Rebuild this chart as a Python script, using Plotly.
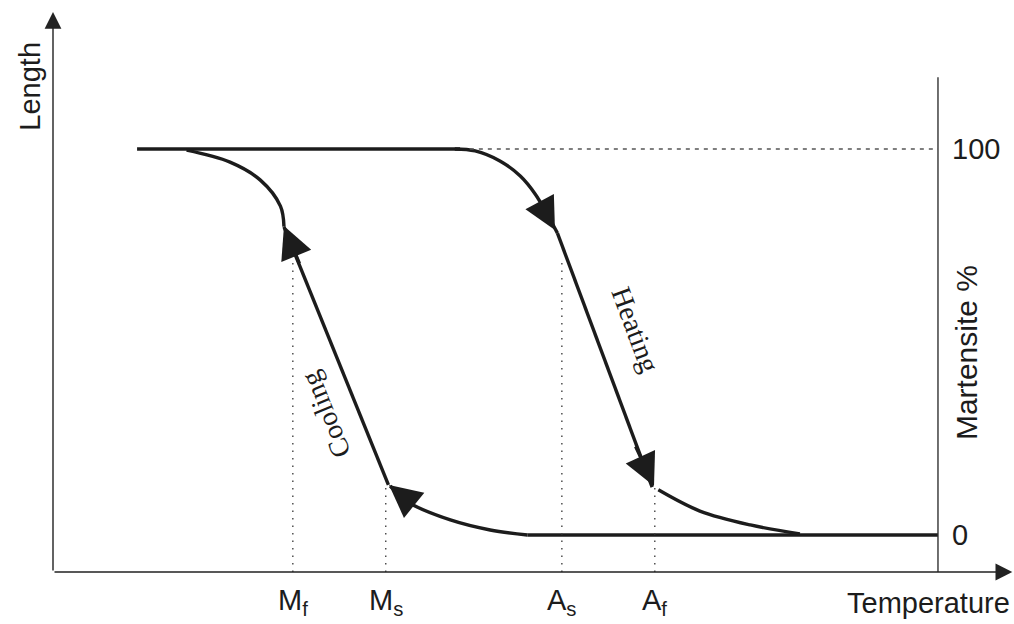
import plotly.graph_objects as go

# ---- data (temperature in arbitrary units, martensite in %) ----
top_line_x = [9.5, 46.0]
top_line_y = [100, 100]
bottom_line_x = [53.6, 100.0]
bottom_line_y = [0, 0]

heat_top_x = [45.4, 47.7, 50.5, 52.8, 54.5, 55.9, 57.0]
heat_top_y = [100, 99.5, 96.9, 93.0, 88.3, 82.9, 78.2]
heat_mid_x = [57.0, 67.7]
heat_mid_y = [78.2, 12.4]
heat_low_x = [68.4, 73.1, 78.8, 84.4]
heat_low_y = [11.7, 6.2, 2.6, 0.3]

cool_low_x = [53.6, 49.4, 44.9, 40.3, 38.1]
cool_low_y = [0.0, 1.3, 3.9, 8.3, 12.7]
cool_mid_x = [37.9, 26.1]
cool_mid_y = [13.0, 79.8]
cool_top_x = [26.1, 25.7, 23.4, 20.0, 15.1]
cool_top_y = [79.9, 85.2, 92.0, 96.6, 99.7]

# arrowheads along the loop: tip point and a point behind it on the path
arrow_tip_x = [56.72, 67.91, 37.97, 26.10]
arrow_tip_y = [79.02, 12.69, 12.95, 80.05]
arrow_tail_x = [55.14, 65.76, 40.90, 27.91]
arrow_tail_y = [85.75, 23.32, 7.51, 69.95]

trans_names = ["M<sub>f</sub>", "M<sub>s</sub>", "A<sub>s</sub>", "A<sub>f</sub>"]
trans_x = [27.1, 37.6, 57.5, 68.0]
trans_top = [70.7, 13.5, 72.0, 12.2]

y_ticks = [0, 100]
y_tick_text = ["0", "100"]

axis_base_y = -9.59
x_axis_end = 108.4
y_axis_end = 135.5
right_axis_x = 100.0
right_axis_top = 118.6

INK = "#1c1c1c"
SANS = "Liberation Sans, Arial, sans-serif"
SERIF = "Liberation Serif, Times New Roman, serif"

fig = go.Figure()

def curve(x, y, shape="linear"):
    fig.add_trace(go.Scatter(x=x, y=y, mode="lines",
                             line=dict(color=INK, width=3.4, shape=shape, smoothing=1.0),
                             hoverinfo="skip"))

curve(top_line_x, top_line_y)
curve(bottom_line_x, bottom_line_y)
curve(heat_top_x, heat_top_y, "spline")
curve(heat_mid_x, heat_mid_y)
curve(heat_low_x, heat_low_y, "spline")
curve(cool_low_x, cool_low_y, "spline")
curve(cool_mid_x, cool_mid_y)
curve(cool_top_x, cool_top_y, "spline")

# dashed 100% line
fig.add_trace(go.Scatter(x=[47.1, right_axis_x], y=[100, 100], mode="lines",
                         line=dict(color="#555", width=1.3, dash="4px,5px"),
                         hoverinfo="skip"))

# dotted transition lines
for tx, tt in zip(trans_x, trans_top):
    fig.add_trace(go.Scatter(x=[tx, tx], y=[axis_base_y, tt], mode="lines",
                             line=dict(color="#444", width=1.4, dash="1.5px,6px"),
                             hoverinfo="skip"))

# right martensite axis line
fig.add_trace(go.Scatter(x=[right_axis_x, right_axis_x], y=[axis_base_y, right_axis_top],
                         mode="lines", line=dict(color="#333", width=1.4), hoverinfo="skip"))

annotations = []
# axes with arrows
annotations.append(dict(x=0, y=y_axis_end, ax=0, ay=axis_base_y, xref="x", yref="y",
                        axref="x", ayref="y", showarrow=True, arrowhead=2, arrowsize=2.4,
                        arrowwidth=1.4, arrowcolor="#222", text=""))
annotations.append(dict(x=x_axis_end, y=axis_base_y, ax=0, ay=axis_base_y, xref="x", yref="y",
                        axref="x", ayref="y", showarrow=True, arrowhead=2, arrowsize=2.4,
                        arrowwidth=1.4, arrowcolor="#222", text=""))

# direction arrowheads on the loop
for tx, ty, sx, sy in zip(arrow_tip_x, arrow_tip_y, arrow_tail_x, arrow_tail_y):
    annotations.append(dict(x=tx, y=ty, ax=sx, ay=sy, xref="x", yref="y",
                            axref="x", ayref="y", showarrow=True, arrowhead=2,
                            arrowsize=1.9, arrowwidth=3.4, arrowcolor=INK, text="",
                            standoff=0, startstandoff=0))

for name, tx in zip(trans_names, trans_x):
    annotations.append(dict(x=tx, y=-17.4, text=name, showarrow=False, xanchor="center",
                            yanchor="middle", font=dict(family=SANS, size=29, color=INK)))

for v, t in zip(y_ticks, y_tick_text):
    annotations.append(dict(x=101.4, y=v, text=t, showarrow=False, xanchor="left",
                            yanchor="middle", font=dict(family=SANS, size=29, color=INK)))

annotations.append(dict(x=98.9, y=-17.6, text="Temperature", showarrow=False,
                        xanchor="center", yanchor="middle",
                        font=dict(family=SANS, size=29, color=INK)))
annotations.append(dict(x=-2.6, y=116.4, text="Length", showarrow=False, textangle=-90,
                        xanchor="center", yanchor="middle",
                        font=dict(family=SANS, size=29, color=INK)))
annotations.append(dict(x=103.2, y=47.2, text="Martensite %", showarrow=False, textangle=-90,
                        xanchor="center", yanchor="middle",
                        font=dict(family=SANS, size=30, color=INK)))
annotations.append(dict(x=30.8, y=31.0, text="Cooling", showarrow=False, textangle=-112,
                        xanchor="center", yanchor="middle",
                        font=dict(family=SERIF, size=28, color=INK)))
annotations.append(dict(x=65.8, y=53.2, text="Heating", showarrow=False, textangle=69.5,
                        xanchor="center", yanchor="middle",
                        font=dict(family=SERIF, size=28, color=INK)))

fig.update_layout(
    width=1014, height=624,
    margin=dict(l=0, r=0, t=0, b=0),
    paper_bgcolor="white", plot_bgcolor="white",
    showlegend=False,
    xaxis=dict(range=[-5.989, 108.59], visible=False, fixedrange=True),
    yaxis=dict(range=[-23.06, 138.60], visible=False, fixedrange=True),
    annotations=annotations,
)

fig.write_html("out.html", config={"displayModeBar": False})
